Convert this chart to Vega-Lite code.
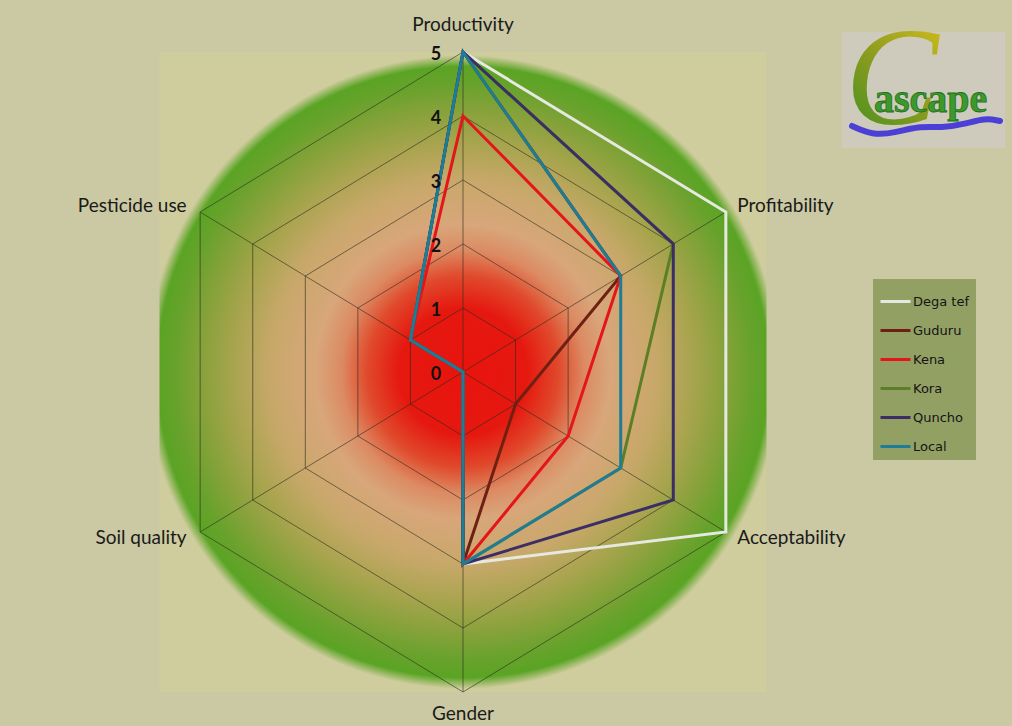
{
  "$schema": "https://vega.github.io/schema/vega-lite/v6.json",
  "width": 1012,
  "height": 726,
  "padding": 0,
  "autosize": {"type": "none"},
  "background": "#cbc9a4",
  "config": {"view": {"stroke": null}},
  "datasets": {
    "scores": [
      {"variety": "Dega tef", "attr": "Productivity", "score": 5},
      {"variety": "Dega tef", "attr": "Profitability", "score": 5},
      {"variety": "Dega tef", "attr": "Acceptability", "score": 5},
      {"variety": "Dega tef", "attr": "Gender", "score": 3},
      {"variety": "Dega tef", "attr": "Soil quality", "score": 0},
      {"variety": "Dega tef", "attr": "Pesticide use", "score": 1},
      {"variety": "Guduru", "attr": "Productivity", "score": 5},
      {"variety": "Guduru", "attr": "Profitability", "score": 3},
      {"variety": "Guduru", "attr": "Acceptability", "score": 1},
      {"variety": "Guduru", "attr": "Gender", "score": 3},
      {"variety": "Guduru", "attr": "Soil quality", "score": 0},
      {"variety": "Guduru", "attr": "Pesticide use", "score": 1},
      {"variety": "Kena", "attr": "Productivity", "score": 4},
      {"variety": "Kena", "attr": "Profitability", "score": 3},
      {"variety": "Kena", "attr": "Acceptability", "score": 2},
      {"variety": "Kena", "attr": "Gender", "score": 3},
      {"variety": "Kena", "attr": "Soil quality", "score": 0},
      {"variety": "Kena", "attr": "Pesticide use", "score": 1},
      {"variety": "Kora", "attr": "Productivity", "score": 5},
      {"variety": "Kora", "attr": "Profitability", "score": 4},
      {"variety": "Kora", "attr": "Acceptability", "score": 3},
      {"variety": "Kora", "attr": "Gender", "score": 3},
      {"variety": "Kora", "attr": "Soil quality", "score": 0},
      {"variety": "Kora", "attr": "Pesticide use", "score": 1},
      {"variety": "Quncho", "attr": "Productivity", "score": 5},
      {"variety": "Quncho", "attr": "Profitability", "score": 4},
      {"variety": "Quncho", "attr": "Acceptability", "score": 4},
      {"variety": "Quncho", "attr": "Gender", "score": 3},
      {"variety": "Quncho", "attr": "Soil quality", "score": 0},
      {"variety": "Quncho", "attr": "Pesticide use", "score": 1},
      {"variety": "Local", "attr": "Productivity", "score": 5},
      {"variety": "Local", "attr": "Profitability", "score": 3},
      {"variety": "Local", "attr": "Acceptability", "score": 3},
      {"variety": "Local", "attr": "Gender", "score": 3},
      {"variety": "Local", "attr": "Soil quality", "score": 0},
      {"variety": "Local", "attr": "Pesticide use", "score": 1}
    ],
    "axes": [
      {"attr": "Productivity", "ring": [1, 2, 3, 4, 5]},
      {"attr": "Profitability", "ring": [1, 2, 3, 4, 5]},
      {"attr": "Acceptability", "ring": [1, 2, 3, 4, 5]},
      {"attr": "Gender", "ring": [1, 2, 3, 4, 5]},
      {"attr": "Soil quality", "ring": [1, 2, 3, 4, 5]},
      {"attr": "Pesticide use", "ring": [1, 2, 3, 4, 5]}
    ],
    "ticks": [{"tick": 0}, {"tick": 1}, {"tick": 2}, {"tick": 3}, {"tick": 4}, {"tick": 5}],
    "logoWave": [
      {"wx": 6.409, "wy": 3.844},
      {"wx": 6.738, "wy": 3.703},
      {"wx": 7.117, "wy": 3.734},
      {"wx": 7.496, "wy": 3.844},
      {"wx": 7.891, "wy": 3.813},
      {"wx": 8.27, "wy": 3.875},
      {"wx": 8.6, "wy": 3.969},
      {"wx": 8.847, "wy": 3.922}
    ]
  },
  "layer": [
    {
      "data": {"values": [{}]},
      "transform": [
        {"calculate": "-5", "as": "ax"},
        {"calculate": "5", "as": "bx"},
        {"calculate": "-5", "as": "ay"},
        {"calculate": "5", "as": "by"}
      ],
      "mark": {
        "type": "rect",
        "fill": {
          "gradient": "radial",
          "x1": 0.5, "y1": 0.5, "r1": 0,
          "x2": 0.5, "y2": 0.5, "r2": 0.5,
          "stops": [
            {"offset": 0, "color": "#e8140e"},
            {"offset": 0.2, "color": "#e5180f"},
            {"offset": 0.3, "color": "#e04a2c"},
            {"offset": 0.38, "color": "#dc8a62"},
            {"offset": 0.46, "color": "#d8a67a"},
            {"offset": 0.6, "color": "#c8a86a"},
            {"offset": 0.72, "color": "#a8a44e"},
            {"offset": 0.82, "color": "#86a23a"},
            {"offset": 0.9, "color": "#68a22c"},
            {"offset": 0.955, "color": "#5aa424"},
            {"offset": 0.99, "color": "#cfcc9d"},
            {"offset": 1, "color": "#cfcc9d"}
          ]
        }
      },
      "encoding": {
        "x": {"field": "ax", "type": "quantitative", "scale": {"domain": [-7.6277, 9.0445], "nice": false, "zero": false}, "axis": null},
        "x2": {"field": "bx"},
        "y": {"field": "ay", "type": "quantitative", "scale": {"domain": [-5.53125, 5.8125], "nice": false, "zero": false}, "axis": null},
        "y2": {"field": "by"}
      }
    },
    {
      "data": {"name": "axes"},
      "transform": [
        {"flatten": ["ring"]},
        {"calculate": "indexof(['Productivity','Profitability','Acceptability','Gender','Soil quality','Pesticide use'], datum.attr)", "as": "k"},
        {"calculate": "datum.ring * sin(datum.k * PI / 3)", "as": "px"},
        {"calculate": "datum.ring * cos(datum.k * PI / 3)", "as": "py"}
      ],
      "mark": {"type": "line", "interpolate": "linear-closed", "stroke": "#2b2b1e", "strokeWidth": 1, "opacity": 0.6},
      "encoding": {
        "x": {"field": "px", "type": "quantitative", "scale": {"domain": [-7.6277, 9.0445], "nice": false, "zero": false}, "axis": null},
        "y": {"field": "py", "type": "quantitative", "scale": {"domain": [-5.53125, 5.8125], "nice": false, "zero": false}, "axis": null},
        "detail": {"field": "ring", "type": "nominal"},
        "order": {"field": "k", "type": "quantitative"}
      }
    },
    {
      "data": {"name": "axes"},
      "transform": [
        {"calculate": "indexof(['Productivity','Profitability','Acceptability','Gender','Soil quality','Pesticide use'], datum.attr)", "as": "k"},
        {"calculate": "5 * sin(datum.k * PI / 3)", "as": "px"},
        {"calculate": "5 * cos(datum.k * PI / 3)", "as": "py"},
        {"calculate": "0", "as": "cx"},
        {"calculate": "0", "as": "cy"}
      ],
      "mark": {"type": "rule", "stroke": "#2b2b1e", "strokeWidth": 1, "opacity": 0.6},
      "encoding": {
        "x": {"field": "cx", "type": "quantitative", "scale": {"domain": [-7.6277, 9.0445], "nice": false, "zero": false}, "axis": null},
        "y": {"field": "cy", "type": "quantitative", "scale": {"domain": [-5.53125, 5.8125], "nice": false, "zero": false}, "axis": null},
        "x2": {"field": "px"},
        "y2": {"field": "py"}
      }
    },
    {
      "data": {"name": "scores"},
      "transform": [
        {"calculate": "indexof(['Productivity','Profitability','Acceptability','Gender','Soil quality','Pesticide use'], datum.attr)", "as": "k"},
        {"calculate": "datum.score * sin(datum.k * PI / 3)", "as": "px"},
        {"calculate": "datum.score * cos(datum.k * PI / 3)", "as": "py"}
      ],
      "mark": {"type": "line", "interpolate": "linear-closed", "strokeWidth": 3, "strokeJoin": "miter"},
      "encoding": {
        "x": {"field": "px", "type": "quantitative", "scale": {"domain": [-7.6277, 9.0445], "nice": false, "zero": false}, "axis": null},
        "y": {"field": "py", "type": "quantitative", "scale": {"domain": [-5.53125, 5.8125], "nice": false, "zero": false}, "axis": null},
        "order": {"field": "k", "type": "quantitative"},
        "color": {
          "field": "variety",
          "type": "nominal",
          "scale": {
            "domain": ["Dega tef", "Guduru", "Kena", "Kora", "Quncho", "Local"],
            "range": ["#e6e9e0", "#6e2012", "#e4161a", "#5c7e24", "#3b2d66", "#1e7d96"]
          },
          "legend": {
            "orient": "none",
            "legendX": 873,
            "legendY": 279,
            "title": null,
            "symbolType": "stroke",
            "symbolStrokeWidth": 3,
            "symbolSize": 900,
            "labelFont": "DejaVu Sans",
            "labelFontSize": 13,
            "labelColor": "#141414",
            "labelOffset": 1,
            "fillColor": "#93a064",
            "padding": 6,
            "rowPadding": 5
          }
        }
      }
    },
    {
      "data": {"name": "ticks"},
      "transform": [{"calculate": "0", "as": "cx"}],
      "mark": {"type": "text", "font": "Lato", "fontSize": 18, "fontWeight": "bold", "color": "#111111", "align": "center", "baseline": "middle", "dx": -27, "dy": 3},
      "encoding": {
        "x": {"field": "cx", "type": "quantitative", "scale": {"domain": [-7.6277, 9.0445], "nice": false, "zero": false}, "axis": null},
        "y": {"field": "tick", "type": "quantitative", "scale": {"domain": [-5.53125, 5.8125], "nice": false, "zero": false}, "axis": null},
        "text": {"field": "tick", "type": "quantitative"}
      }
    },
    {
      "data": {"name": "axes"},
      "transform": [
        {"calculate": "indexof(['Productivity','Profitability','Acceptability','Gender','Soil quality','Pesticide use'], datum.attr)", "as": "k"},
        {"filter": "datum.k == 0 || datum.k == 3"},
        {"calculate": "(datum.k == 0 ? 5.42 : 5.35) * sin(datum.k * PI / 3)", "as": "px"},
        {"calculate": "(datum.k == 0 ? 5.42 : 5.35) * cos(datum.k * PI / 3)", "as": "py"}
      ],
      "mark": {"type": "text", "font": "Lato", "fontSize": 19, "color": "#1a1a1a", "align": "center", "baseline": "middle"},
      "encoding": {
        "x": {"field": "px", "type": "quantitative", "scale": {"domain": [-7.6277, 9.0445], "nice": false, "zero": false}, "axis": null},
        "y": {"field": "py", "type": "quantitative", "scale": {"domain": [-5.53125, 5.8125], "nice": false, "zero": false}, "axis": null},
        "text": {"field": "attr", "type": "nominal"}
      }
    },
    {
      "data": {"name": "axes"},
      "transform": [
        {"calculate": "indexof(['Productivity','Profitability','Acceptability','Gender','Soil quality','Pesticide use'], datum.attr)", "as": "k"},
        {"filter": "datum.k == 1 || datum.k == 2"},
        {"calculate": "5.2 * sin(datum.k * PI / 3)", "as": "px"},
        {"calculate": "5.2 * cos(datum.k * PI / 3)", "as": "py"}
      ],
      "mark": {"type": "text", "font": "Lato", "fontSize": 19, "color": "#1a1a1a", "align": "left", "baseline": "middle", "dx": 1},
      "encoding": {
        "x": {"field": "px", "type": "quantitative", "scale": {"domain": [-7.6277, 9.0445], "nice": false, "zero": false}, "axis": null},
        "y": {"field": "py", "type": "quantitative", "scale": {"domain": [-5.53125, 5.8125], "nice": false, "zero": false}, "axis": null},
        "text": {"field": "attr", "type": "nominal"}
      }
    },
    {
      "data": {"name": "axes"},
      "transform": [
        {"calculate": "indexof(['Productivity','Profitability','Acceptability','Gender','Soil quality','Pesticide use'], datum.attr)", "as": "k"},
        {"filter": "datum.k == 4 || datum.k == 5"},
        {"calculate": "5.2 * sin(datum.k * PI / 3)", "as": "px"},
        {"calculate": "5.2 * cos(datum.k * PI / 3)", "as": "py"}
      ],
      "mark": {"type": "text", "font": "Lato", "fontSize": 19, "color": "#1a1a1a", "align": "right", "baseline": "middle", "dx": -3},
      "encoding": {
        "x": {"field": "px", "type": "quantitative", "scale": {"domain": [-7.6277, 9.0445], "nice": false, "zero": false}, "axis": null},
        "y": {"field": "py", "type": "quantitative", "scale": {"domain": [-5.53125, 5.8125], "nice": false, "zero": false}, "axis": null},
        "text": {"field": "attr", "type": "nominal"}
      }
    },
    {
      "data": {"values": [{}]},
      "transform": [
        {"calculate": "6.244", "as": "ax"},
        {"calculate": "8.93", "as": "bx"},
        {"calculate": "5.3125", "as": "ay"},
        {"calculate": "3.5", "as": "by"}
      ],
      "mark": {"type": "rect", "fill": "#cecbbc"},
      "encoding": {
        "x": {"field": "ax", "type": "quantitative", "scale": {"domain": [-7.6277, 9.0445], "nice": false, "zero": false}, "axis": null},
        "x2": {"field": "bx"},
        "y": {"field": "ay", "type": "quantitative", "scale": {"domain": [-5.53125, 5.8125], "nice": false, "zero": false}, "axis": null},
        "y2": {"field": "by"}
      }
    },
    {
      "data": {"values": [{}]},
      "transform": [
        {"calculate": "7.068", "as": "ax"},
        {"calculate": "3.875", "as": "ay"}
      ],
      "mark": {
        "type": "text", "text": "C", "font": "Liberation Serif", "fontStyle": "italic", "fontSize": 140, "align": "center", "baseline": "alphabetic",
        "fill": {"gradient": "linear", "x1": 0.8, "y1": 0, "x2": 0.2, "y2": 1, "stops": [{"offset": 0, "color": "#d0bc1e"}, {"offset": 0.5, "color": "#8c9c1e"}, {"offset": 1, "color": "#3f8f22"}]}
      },
      "encoding": {
        "x": {"field": "ax", "type": "quantitative", "scale": {"domain": [-7.6277, 9.0445], "nice": false, "zero": false}, "axis": null},
        "y": {"field": "ay", "type": "quantitative", "scale": {"domain": [-5.53125, 5.8125], "nice": false, "zero": false}, "axis": null}
      }
    },
    {
      "data": {"name": "logoWave"},
      "mark": {"type": "line", "interpolate": "basis", "stroke": "#4c3fd6", "strokeWidth": 6, "strokeCap": "round"},
      "encoding": {
        "x": {"field": "wx", "type": "quantitative", "scale": {"domain": [-7.6277, 9.0445], "nice": false, "zero": false}, "axis": null},
        "y": {"field": "wy", "type": "quantitative", "scale": {"domain": [-5.53125, 5.8125], "nice": false, "zero": false}, "axis": null},
        "order": {"field": "wx", "type": "quantitative"}
      }
    },
    {
      "data": {"values": [{}]},
      "transform": [
        {"calculate": "6.771", "as": "ax"},
        {"calculate": "4.0625", "as": "ay"}
      ],
      "mark": {"type": "text", "text": "ascape", "font": "Liberation Serif", "fontWeight": "bold", "fontSize": 40, "fill": "#3c9a2c", "stroke": "#1f6e1a", "strokeWidth": 0.8, "align": "left", "baseline": "alphabetic"},
      "encoding": {
        "x": {"field": "ax", "type": "quantitative", "scale": {"domain": [-7.6277, 9.0445], "nice": false, "zero": false}, "axis": null},
        "y": {"field": "ay", "type": "quantitative", "scale": {"domain": [-5.53125, 5.8125], "nice": false, "zero": false}, "axis": null}
      }
    }
  ]
}
